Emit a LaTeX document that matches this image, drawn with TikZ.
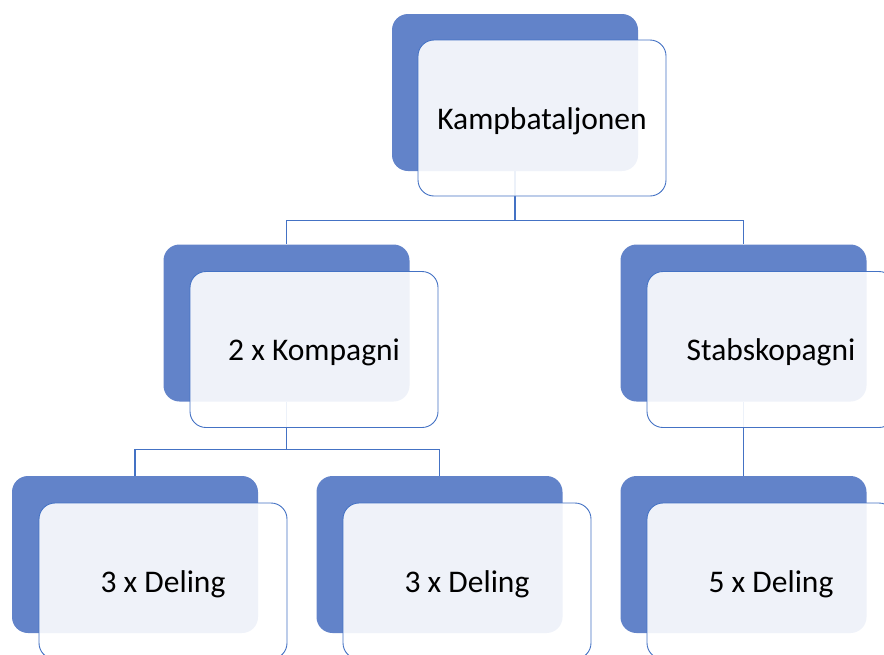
\documentclass[tikz,border=0pt]{standalone}
\usepackage{fontspec}
\setmainfont{Carlito}
\definecolor{darkbox}{HTML}{6283C9}
\definecolor{edge}{HTML}{4472C4}
\tikzset{
  backbox/.style={draw=none, fill=darkbox, rounded corners=16pt, minimum width=246pt, minimum height=157pt, inner sep=0pt},
  frontbox/.style={draw=edge, line width=0.9pt, fill=white, fill opacity=0.9, rounded corners=16pt, minimum width=248pt, minimum height=156pt, inner sep=0pt},
  boxtext/.style={inner sep=0pt, font=\fontsize{31.5}{36}\selectfont},
  link/.style={draw=edge, line width=1.2pt}
}
\begin{document}
\begin{tikzpicture}[x=1pt, y=-1pt]
\useasboundingbox (0,0) rectangle (884,654);
\clip (0,0) rectangle (884,654);
% back boxes
\node[backbox] (b1) at (515,92.5) {};
\node[backbox] (b2) at (286.5,323) {};
\node[backbox] (b3) at (743.5,323) {};
\node[backbox] (b4) at (135,554.5) {};
\node[backbox] (b5) at (439.5,554.5) {};
\node[backbox] (b6) at (743.5,554.5) {};
% connectors
\draw[link] (b1.south) -- ++(0,49) -| (b2.north);
\draw[link] (b1.south) -- ++(0,49) -| (b3.north);
\draw[link] (b2.south) -- ++(0,48) -| (b4.north);
\draw[link] (b2.south) -- ++(0,48) -| (b5.north);
\draw[link] (b3.south) -- (b6.north);
% front boxes
\node[frontbox] (f1) at (542,118) {};
\node[frontbox] (f2) at (314,349.5) {};
\node[frontbox] (f3) at (771,349.5) {};
\node[frontbox] (f4) at (163,581) {};
\node[frontbox] (f5) at (467,581) {};
\node[frontbox] (f6) at (771,581) {};
% texts
\node[boxtext] (t1) at ([yshift=-3pt]f1.center) {Kampbataljonen};
\node[boxtext] (t2) at ([yshift=-3pt]f2.center) {2 x Kompagni};
\node[boxtext] (t3) at ([yshift=-3pt]f3.center) {Stabskopagni};
\node[boxtext] (t4) at ([yshift=-3pt]f4.center) {3 x Deling};
\node[boxtext] (t5) at ([yshift=-3pt]f5.center) {3 x Deling};
\node[boxtext] (t6) at ([yshift=-3pt]f6.center) {5 x Deling};
\end{tikzpicture}
\end{document}
